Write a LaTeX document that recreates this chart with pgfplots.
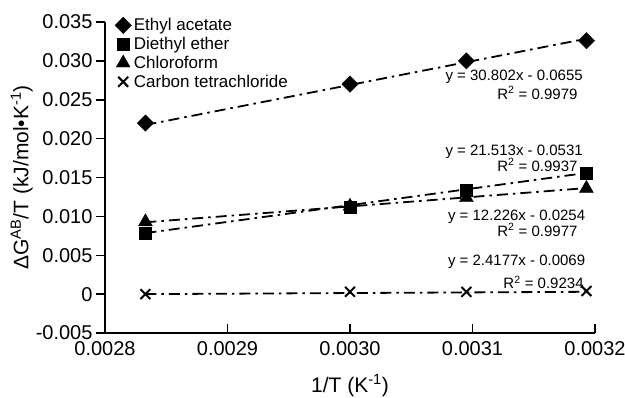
\documentclass[border=0pt]{standalone}
\usepackage{pgfplots}
\pgfplotsset{compat=1.18}
\usepackage{fontspec}
\setmainfont{Liberation Sans}
\begin{document}
\begin{tikzpicture}
\useasboundingbox (-105pt,-64pt) rectangle (520pt,333pt);
\begin{axis}[
  at={(0,0)}, anchor=south west,
  scale only axis, width=490pt, height=311pt,
  xmin=0.0028, xmax=0.0032, ymin=-0.005, ymax=0.035,
  axis x line*=bottom, axis y line*=left,
  axis line style={line width=1.8pt},
  clip=false,
  scaled ticks=false,
  xtick={0.0028,0.0029,0.003,0.0031,0.0032},
  xticklabels={0.0028,0.0029,0.0030,0.0031,0.0032},
  ytick={-0.005,0,0.005,0.01,0.015,0.02,0.025,0.03,0.035},
  yticklabels={-0.005,0,0.005,0.010,0.015,0.020,0.025,0.030,0.035},
  xtick align=inside, ytick align=outside,
  major tick length=9pt,
  every tick/.style={line width=1.5pt, black},
  tick label style={font=\fontsize{20}{24}\selectfont},
  xticklabel style={yshift=-5pt},
  xlabel={1/T (K\textsuperscript{-1})},
  ylabel={ΔG\textsuperscript{AB}/T (kJ/mol•K\textsuperscript{-1})},
  label style={font=\fontsize{21}{24}\selectfont},
  x label style={at={(axis description cs:0.5,-0.17)}, anchor=center},
  y label style={at={(axis description cs:-0.17,0.5)}, anchor=center},
  legend style={at={(axis description cs:0.02,1.02)}, anchor=north west, draw=none, fill=none,
    font=\fontsize{17}{17}\selectfont, row sep=0pt, inner sep=0pt,
    nodes={inner sep=2.5pt}},
  legend cell align=left,
  trend/.style={black, line width=1.8pt, dash pattern=on 11pt off 5pt on 2.5pt off 5pt, forget plot},
]
% trendlines
\addplot[trend] coordinates {(0.002833,0.02176) (0.003193,0.03285)};
\addplot[trend] coordinates {(0.002833,0.00785) (0.003193,0.01559)};
\addplot[trend] coordinates {(0.002833,0.00924) (0.003193,0.01364)};
\addplot[trend] coordinates {(0.002833,0.0000) (0.003193,0.0003)};
% data
\addplot[only marks, mark=square*, mark size=5.8pt, mark options={rotate=45, fill=black}, black]
  coordinates {(0.002833,0.0220) (0.003,0.0270) (0.003095,0.0300) (0.003193,0.0326)};
\addlegendentry{Ethyl acetate}
\addplot[only marks, mark=square*, mark size=6pt, mark options={fill=black}, black]
  coordinates {(0.002833,0.0078) (0.003,0.0112) (0.003095,0.0134) (0.003193,0.0155)};
\addlegendentry{Diethyl ether}
\addplot[only marks, mark=triangle*, mark size=8pt, mark options={fill=black}, black]
  coordinates {(0.002833,0.0093) (0.003,0.0113) (0.003095,0.0124) (0.003193,0.0136)};
\addlegendentry{Chloroform}
\addplot[only marks, mark=x, mark size=7pt, mark options={line width=2pt}, black]
  coordinates {(0.002833,0.0000) (0.003,0.0003) (0.003095,0.0003) (0.003193,0.0004)};
\addlegendentry{Carbon tetrachloride}
% equations
\begin{scope}[every node/.style={font=\fontsize{15}{15}\selectfont, inner sep=0pt}]
\node at (axis cs:0.003134,0.02793) {y = 30.802x - 0.0655};
\node at (axis cs:0.003153,0.02587) {R\textsuperscript{2} = 0.9979};
\node at (axis cs:0.003134,0.01828) {y = 21.513x - 0.0531};
\node at (axis cs:0.003153,0.01661) {R\textsuperscript{2} = 0.9937};
\node at (axis cs:0.003136,0.00992) {y = 12.226x - 0.0254};
\node at (axis cs:0.003153,0.00825) {R\textsuperscript{2} = 0.9977};
\node at (axis cs:0.003136,0.00413) {y = 2.4177x - 0.0069};
\node at (axis cs:0.003158,0.00155) {R\textsuperscript{2} = 0.9234};
\end{scope}
\end{axis}
\end{tikzpicture}
\end{document}
